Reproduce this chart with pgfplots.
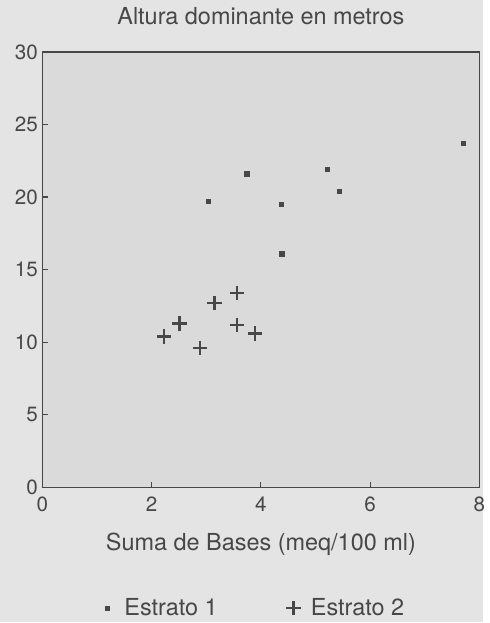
\documentclass[border=0pt]{standalone}
\usepackage{fontspec}
\setmainfont{TeX Gyre Heros}
\usepackage{pgfplots}
\pgfplotsset{compat=1.18}
\definecolor{bg}{HTML}{E4E4E4}
\definecolor{panel}{HTML}{DADADA}
\definecolor{ink}{HTML}{474747}

\begin{document}
\begin{tikzpicture}
% page is 484 x 623 px, 1 px = 0.75pt
\fill[bg] (0pt,0pt) rectangle (363pt,467.25pt);
\begin{axis}[
    at={(31.9pt,101.25pt)}, anchor=south west,
    scale only axis,
    width=328.1pt, height=327pt,
    xmin=0, xmax=8, ymin=0, ymax=30,
    xtick={0,2,4,6,8},
    ytick={0,5,...,30},
    tick pos=left,
    tick align=inside,
    major tick length=4pt,
    axis background/.style={fill=panel},
    axis line style={ink, line width=1.1pt},
    every tick/.style={ink, line width=0.9pt},
    /pgf/number format/assume math mode=true,
    ticklabel style={font=\fontsize{15.5}{18}\selectfont, text=ink},
    xticklabel style={anchor=base, yshift=-18.5pt},
    title={Altura dominante en metros},
    title style={at={(0.5,1)}, anchor=base, yshift=14.25pt,
        font=\fontsize{17.6}{20}\selectfont, text=ink},
    xlabel={Suma de Bases (meq/100 ml)},
    xlabel style={at={(0.5,0)}, anchor=base, yshift=-47.25pt,
        font=\fontsize{17.6}{20}\selectfont, text=ink},
    legend style={draw=none, fill=none, at={(0.482,-0.2775)}, anchor=center,
        font=\fontsize{17.6}{20}\selectfont, text=ink,
        /tikz/every even column/.append style={column sep=49pt}},
    legend columns=2,
    legend cell align=left,
    legend image code/.code={%
        \path[draw=none] (-6pt,0pt) -- (11pt,0pt);
        \draw[#1] plot coordinates {(0pt,0pt)};},
]
\addplot[only marks, mark=square*, mark size=1.6pt, ink, mark options={fill=ink}]
coordinates {
    (3.03, 19.7)
    (3.74, 21.6)
    (4.37, 19.5)
    (4.38, 16.1)
    (5.21, 21.9)
    (5.44, 20.4)
    (7.70, 23.7)
};
\addlegendentry{Estrato 1}
\addplot[only marks, mark=+, mark size=5.4pt, ink, mark options={line width=1.8pt}]
coordinates {
    (2.23, 10.4)
    (2.51, 11.3)
    (2.89, 9.6)
    (3.15, 12.7)
    (3.56, 13.4)
    (3.56, 11.2)
    (3.89, 10.6)
};
\addlegendentry{Estrato 2}
\end{axis}
\end{tikzpicture}
\end{document}
